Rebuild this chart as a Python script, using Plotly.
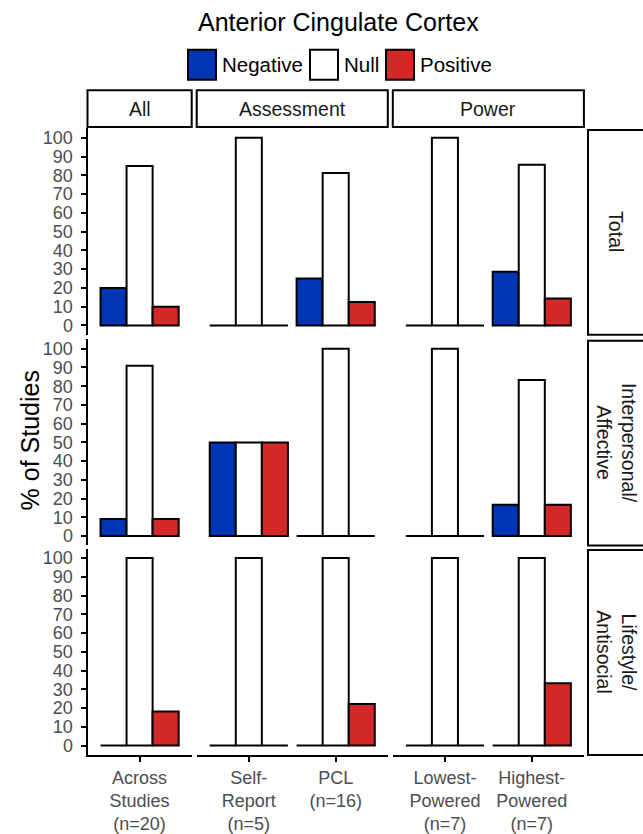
import plotly.graph_objects as go

W, H = 643, 834
FONT = "Liberation Sans, Arial, sans-serif"

# ---------------- data ----------------
title_text = "Anterior Cingulate Cortex"
facet_names = ["All", "Assessment", "Power"]
categories = ["Across Studies (n=20)", "Self-Report (n=5)", "PCL (n=16)",
              "Lowest-Powered (n=7)", "Highest-Powered (n=7)"]
category_facet = ["All", "Assessment", "Assessment", "Power", "Power"]
tick_labels = ["Across<br>Studies<br>(n=20)", "Self-<br>Report<br>(n=5)", "PCL<br>(n=16)",
               "Lowest-<br>Powered<br>(n=7)", "Highest-<br>Powered<br>(n=7)"]
row_names = ["Total", "Interpersonal/<br>Affective", "Lifestyle/<br>Antisocial"]
series_names = ["Negative", "Null", "Positive"]

negative_total = [20, 0, 25, 0, 28.6]
null_total = [85, 100, 81.2, 100, 85.7]
positive_total = [10, 0, 12.5, 0, 14.3]

negative_interpersonal = [9.1, 50, 0, 0, 16.7]
null_interpersonal = [90.9, 50, 100, 100, 83.3]
positive_interpersonal = [9.1, 50, 0, 0, 16.7]

negative_lifestyle = [0, 0, 0, 0, 0]
null_lifestyle = [100, 100, 100, 100, 100]
positive_lifestyle = [18.2, 0, 22.2, 0, 33.3]

y_ticks = [0, 10, 20, 30, 40, 50, 60, 70, 80, 90, 100]

# --------------- styling ---------------
colors = {"Negative": "#0035B3", "Null": "#FFFFFF", "Positive": "#D42828"}
row_values = [
    {"Negative": negative_total, "Null": null_total, "Positive": positive_total},
    {"Negative": negative_interpersonal, "Null": null_interpersonal, "Positive": positive_interpersonal},
    {"Negative": negative_lifestyle, "Null": null_lifestyle, "Positive": positive_lifestyle},
]

col_px = [(87.5, 191.7), (196.7, 387.8), (392.8, 583.9)]
row_px = [(128.9, 336.0), (340.6, 547.4), (550.6, 757.7)]


def px(x):
    return x / W


def py(y):
    return 1 - y / H


fig = go.Figure()
layout = {}
shapes = []
annotations = []

for r in range(3):
    for c, facet in enumerate(facet_names):
        idx = r * 3 + c + 1
        sfx = "" if idx == 1 else str(idx)
        cat_idx = [i for i, f in enumerate(category_facet) if f == facet]
        cats = [categories[i] for i in cat_idx]
        labs = [tick_labels[i] for i in cat_idx]
        for s in series_names:
            vals = [row_values[r][s][i] for i in cat_idx]
            fig.add_trace(go.Bar(
                x=cats, y=vals, name=s, showlegend=False,
                xaxis="x" + sfx, yaxis="y" + sfx,
                marker=dict(color=colors[s], line=dict(color="black", width=2)),
                hoverinfo="x+y+name",
            ))
        bottom = (r == 2)
        layout["xaxis" + sfx] = dict(
            domain=[px(col_px[c][0]), px(col_px[c][1])],
            anchor="y" + sfx,
            type="category",
            categoryorder="array", categoryarray=cats,
            range=[-0.6, len(cats) - 0.4],
            showgrid=False, zeroline=False,
            showline=bottom, linecolor="black", linewidth=2,
            ticks="outside" if bottom else "", ticklen=5, tickwidth=2, tickcolor="black",
            showticklabels=bottom,
            tickvals=cats, ticktext=labs,
            tickfont=dict(family=FONT, size=18, color="#4D4D4D"),
        )
        left = (c == 0)
        layout["yaxis" + sfx] = dict(
            domain=[py(row_px[r][1]), py(row_px[r][0])],
            anchor="x" + sfx,
            range=[-5, 105],
            showgrid=False, zeroline=False,
            showline=left, linecolor="black", linewidth=2,
            ticks="outside" if left else "", ticklen=5, tickwidth=2, tickcolor="black",
            showticklabels=left,
            tickvals=y_ticks, ticktext=[str(t) for t in y_ticks],
            tickfont=dict(family=FONT, size=18, color="#4D4D4D"),
            ticklabelstandoff=4,
        )

# column strips (top)
for c, facet in enumerate(facet_names):
    x0, x1 = col_px[c]
    shapes.append(dict(type="rect", xref="paper", yref="paper",
                       x0=px(x0), x1=px(x1), y0=py(127.5), y1=py(90.5),
                       line=dict(color="black", width=2), fillcolor="white"))
    annotations.append(dict(xref="paper", yref="paper", x=px((x0 + x1) / 2), y=py(109),
                            text=facet, showarrow=False, xanchor="center", yanchor="middle",
                            font=dict(family=FONT, size=19.5, color="#1A1A1A")))

# row strips (right)
for r, rn in enumerate(row_names):
    y0, y1 = row_px[r]
    shapes.append(dict(type="rect", xref="paper", yref="paper",
                       x0=px(588), x1=px(655), y0=py(y1), y1=py(y0 + 1.5),
                       line=dict(color="black", width=2), fillcolor="white"))
    annotations.append(dict(xref="paper", yref="paper", x=px(616.5), y=py((y0 + y1) / 2),
                            text=rn, showarrow=False, textangle=90,
                            xanchor="center", yanchor="middle",
                            font=dict(family=FONT, size=19.5, color="#1A1A1A")))

# title
annotations.append(dict(xref="paper", yref="paper", x=px(338.5), y=py(22),
                        text=title_text, showarrow=False, xanchor="center", yanchor="middle",
                        font=dict(family=FONT, size=25, color="black")))

# y axis title
annotations.append(dict(xref="paper", yref="paper", x=px(30), y=py(442),
                        text="% of Studies", showarrow=False, textangle=-90,
                        xanchor="center", yanchor="middle",
                        font=dict(family=FONT, size=25, color="black")))

# legend (keys + labels)
legend_key_x = [188, 310, 386]
for s, kx in zip(series_names, legend_key_x):
    shapes.append(dict(type="rect", xref="paper", yref="paper",
                       x0=px(kx), x1=px(kx + 28), y0=py(80), y1=py(50),
                       line=dict(color="black", width=2), fillcolor=colors[s]))
    annotations.append(dict(xref="paper", yref="paper", x=px(kx + 32), y=py(65),
                            text=s, showarrow=False, xanchor="left", yanchor="middle",
                            font=dict(family=FONT, size=20.5, color="black")))

fig.update_layout(
    width=W, height=H, autosize=False,
    margin=dict(l=0, r=0, t=0, b=0),
    paper_bgcolor="white", plot_bgcolor="white",
    barmode="group", bargap=0.1, bargroupgap=0,
    showlegend=False,
    shapes=shapes, annotations=annotations,
    font=dict(family=FONT),
    **layout,
)

fig.write_html("out.html")
